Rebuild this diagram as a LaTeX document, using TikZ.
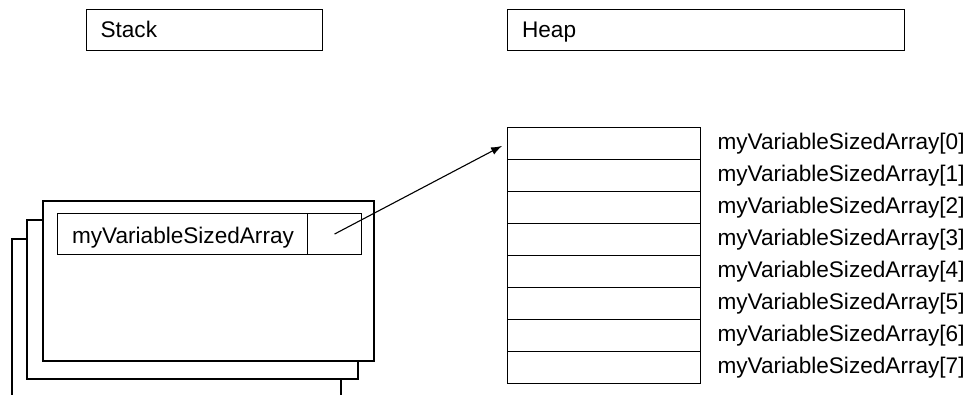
\documentclass[tikz,border=0pt]{standalone}
\usepackage{fontspec}
\setmainfont{Liberation Sans}
\usetikzlibrary{arrows.meta}
\begin{document}
\begin{tikzpicture}[x=1pt,y=-1pt,line width=1.1pt,
  hdr/.style={draw,minimum height=41pt,inner sep=0pt,anchor=north west},
  lbl/.style={font=\fontsize{22.6}{24}\selectfont,inner sep=0pt,anchor=base west},
  frame/.style={draw,fill=white},
  cell/.style={draw,minimum width=193pt,minimum height=32pt,inner sep=0pt,anchor=north west},
  ptr/.style={-{Latex[length=11pt,width=8pt]}}]
\useasboundingbox (0,0) rectangle (974,395);
\clip (0,0) rectangle (974,395);
% headers
\node[hdr,minimum width=236pt] (stack) at (86,9) {};
\node[lbl] (stacktxt) at (100,37.7) {Stack};
\node[hdr,minimum width=397pt] (heap) at (506.5,9) {};
\node[lbl] (heaptxt) at (521.5,37.7) {Heap};
% stack frames
\path[frame] (12,239) rectangle (341,420);
\path[frame] (27,220) rectangle (358,379);
\path[frame] (43,201) rectangle (374,361);
\node[draw,minimum width=250pt,minimum height=41pt,inner sep=0pt,anchor=north west] (var) at (57,213) {};
\node[lbl] (vartxt) at (71.5,243.3) {myVariableSizedArray};
\node[draw,minimum width=54pt,minimum height=41pt,inner sep=0pt,anchor=north west] (ptrcell) at (307,213) {};
% heap cells
\foreach \i in {0,...,7}{
  \node[cell] (h\i) at (506.5,{127+32*\i}) {};
  \node[lbl] (l\i) at (717,{149.5+32*\i}) {myVariableSizedArray[\i]};
}
\draw[ptr,shorten >=5pt] (ptrcell.center) -- (h0.west);
\end{tikzpicture}
\end{document}
